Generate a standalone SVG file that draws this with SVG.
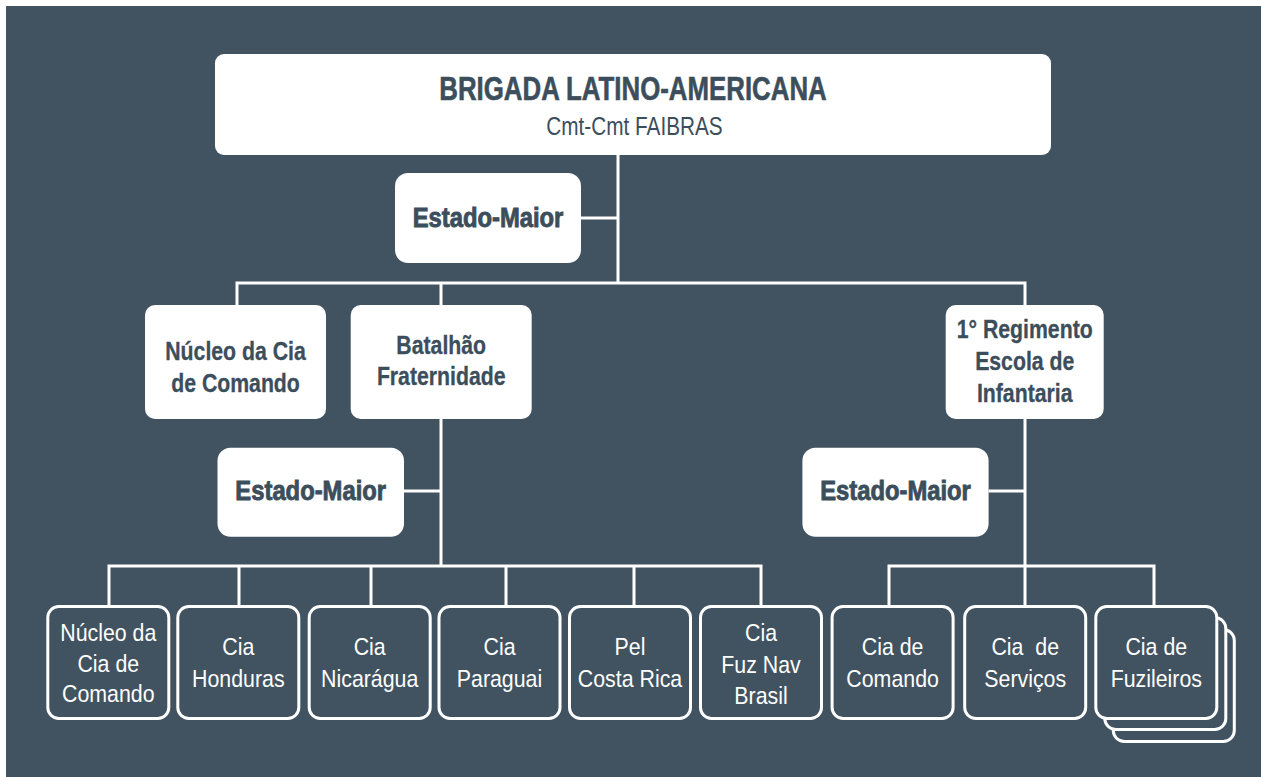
<svg xmlns="http://www.w3.org/2000/svg" width="1261" height="777" viewBox="0 0 1261 777">
<style>
.bg{fill:#415360}
.wbox{fill:#ffffff}
.obox{fill:#415360;stroke:#ffffff;stroke-width:3}
.conn{fill:none;stroke:#ffffff;stroke-width:3}
text{font-family:"Liberation Sans",Arial,sans-serif;text-anchor:middle}
.title{font-size:34px;font-weight:bold;fill:#3c4e5b;stroke:#3c4e5b;stroke-width:0.6}
.sub{font-size:25px;fill:#3c4e5b}
.mid{font-size:25px;font-weight:bold;fill:#3c4e5b;stroke:#3c4e5b;stroke-width:0.3}
.em{font-size:28px;font-weight:bold;fill:#3c4e5b;stroke:#3c4e5b;stroke-width:0.9}
.bot{font-size:24px;fill:#ffffff}
</style>
<rect x="0" y="0" width="1261" height="777" fill="#ffffff"/>
<rect class="bg" x="6" y="6" width="1255" height="771"/>

<g id="connectors">
<path class="conn" d="M618 155V283M581 218H618M237 305V283H1025V305M441 283V305M441 419V566M404 491H441M109 605V566H761V605M239 566V605M371 566V605M506 566V605M634 566V605M1025 419V566M988.6 491H1025M889 605V566H1154V605M1025 566V605"/>
</g>

<g id="brigada">
<rect class="wbox" x="215" y="54" width="836" height="101" rx="9"/>
<text class="title" transform="translate(633 100) scale(0.76 1)">BRIGADA LATINO-AMERICANA</text>
<text class="sub" transform="translate(634.5 135) scale(0.83 1)">Cmt-Cmt FAIBRAS</text>
</g>

<g id="em1">
<rect class="wbox" x="395" y="173" width="186" height="90" rx="13"/>
<text class="em" transform="translate(488 227) scale(0.85 1)">Estado-Maior</text>
</g>

<g id="nucleo">
<rect class="wbox" x="145" y="305" width="181" height="114" rx="10"/>
<text class="mid" transform="translate(235.5 360) scale(0.85 1)">Núcleo da Cia</text>
<text class="mid" transform="translate(235.5 391.7) scale(0.85 1)">de Comando</text>
</g>

<g id="batalhao">
<rect class="wbox" x="350.7" y="305" width="181" height="114" rx="10"/>
<text class="mid" transform="translate(441.2 354) scale(0.85 1)">Batalhão</text>
<text class="mid" transform="translate(441.2 385) scale(0.85 1)">Fraternidade</text>
</g>

<g id="regimento">
<rect class="wbox" x="945.7" y="305" width="158" height="114" rx="10"/>
<text class="mid" transform="translate(1024.7 338) scale(0.85 1)">1° Regimento</text>
<text class="mid" transform="translate(1024.7 370) scale(0.85 1)">Escola de</text>
<text class="mid" transform="translate(1024.7 401.7) scale(0.85 1)">Infantaria</text>
</g>

<g id="em2">
<rect class="wbox" x="217.5" y="447.7" width="186.5" height="89" rx="13"/>
<text class="em" transform="translate(310.7 500) scale(0.85 1)">Estado-Maior</text>
</g>

<g id="em3">
<rect class="wbox" x="802.4" y="447.7" width="186.2" height="89" rx="13"/>
<text class="em" transform="translate(895.5 500) scale(0.85 1)">Estado-Maior</text>
</g>

<g id="b1">
<rect class="obox" x="47.8" y="606.5" width="121" height="112" rx="11"/>
<text class="bot" transform="translate(108.3 641) scale(0.89 1)">Núcleo da</text>
<text class="bot" transform="translate(108.3 671.5) scale(0.89 1)">Cia de</text>
<text class="bot" transform="translate(108.3 702) scale(0.89 1)">Comando</text>
</g>

<g id="b2">
<rect class="obox" x="177.8" y="606.5" width="121" height="112" rx="11"/>
<text class="bot" transform="translate(238.3 655) scale(0.89 1)">Cia</text>
<text class="bot" transform="translate(238.3 686.7) scale(0.89 1)">Honduras</text>
</g>

<g id="b3">
<rect class="obox" x="309.2" y="606.5" width="121" height="112" rx="11"/>
<text class="bot" transform="translate(369.7 655) scale(0.89 1)">Cia</text>
<text class="bot" transform="translate(369.7 686.7) scale(0.89 1)">Nicarágua</text>
</g>

<g id="b4">
<rect class="obox" x="439" y="606.5" width="121" height="112" rx="11"/>
<text class="bot" transform="translate(499.5 655) scale(0.89 1)">Cia</text>
<text class="bot" transform="translate(499.5 686.7) scale(0.89 1)">Paraguai</text>
</g>

<g id="b5">
<rect class="obox" x="569.5" y="606.5" width="121" height="112" rx="11"/>
<text class="bot" transform="translate(630 655) scale(0.89 1)">Pel</text>
<text class="bot" transform="translate(630 686.7) scale(0.89 1)">Costa Rica</text>
</g>

<g id="b6">
<rect class="obox" x="700.5" y="606.5" width="121" height="112" rx="11"/>
<text class="bot" transform="translate(761 641) scale(0.89 1)">Cia</text>
<text class="bot" transform="translate(761 672.5) scale(0.89 1)">Fuz Nav</text>
<text class="bot" transform="translate(761 704) scale(0.89 1)">Brasil</text>
</g>

<g id="b7">
<rect class="obox" x="832.1" y="606.5" width="121" height="112" rx="11"/>
<text class="bot" transform="translate(892.6 655) scale(0.89 1)">Cia de</text>
<text class="bot" transform="translate(892.6 686.7) scale(0.89 1)">Comando</text>
</g>

<g id="b8">
<rect class="obox" x="964.7" y="606.5" width="121" height="112" rx="11"/>
<text class="bot" xml:space="preserve" transform="translate(1025.2 655) scale(0.89 1)">Cia  de</text>
<text class="bot" transform="translate(1025.2 686.7) scale(0.89 1)">Serviços</text>
</g>

<g id="b9">
<rect class="obox" x="1113.3" y="629.5" width="121" height="112" rx="11"/>
<rect class="obox" x="1104.8" y="617.5" width="121" height="112" rx="11"/>
<rect class="obox" x="1095.8" y="606.5" width="121" height="112" rx="11"/>
<text class="bot" transform="translate(1156.3 655) scale(0.89 1)">Cia de</text>
<text class="bot" transform="translate(1156.3 686.7) scale(0.89 1)">Fuzileiros</text>
</g>
</svg>
